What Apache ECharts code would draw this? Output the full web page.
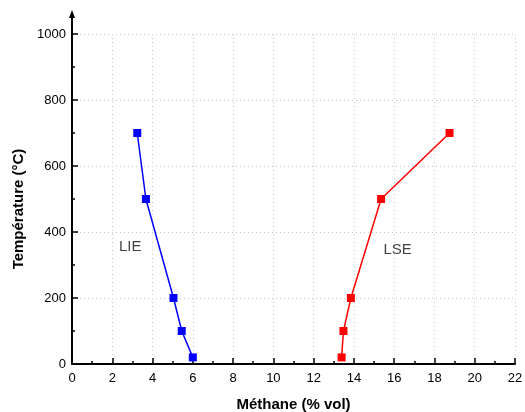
<!DOCTYPE html>
<html><head><meta charset="utf-8">
<script src="https://cdn.jsdelivr.net/npm/echarts@6/dist/echarts.min.js"></script>
<style>html,body{margin:0;padding:0;background:#fff;overflow:hidden}#c{width:525px;height:412px}</style>
</head><body><div id="c"></div>
<script>
const lieX = [3.24, 3.67, 5.04, 5.45, 6.0];
const lieY = [700, 500, 200, 100, 20];
const lseX = [18.75, 15.35, 13.85, 13.48, 13.39];
const lseY = [700, 500, 200, 100, 20];
const textLabels = [['LIE', 2.89, 356], ['LSE', 16.17, 346]];
const xTitle = 'Méthane (% vol)';
const yTitle = 'Température (°C)';

const chart = echarts.init(document.getElementById('c'), null, {renderer: 'canvas'});
const font = 'Liberation Sans, Arial, sans-serif';
const axisCommon = {
  axisLine: {show: true, lineStyle: {color: '#000', width: 2}},
  axisTick: {show: true, inside: true, length: 6, lineStyle: {color: '#000', width: 1.5}},
  minorTick: {show: true, splitNumber: 2, length: 3, lineStyle: {color: '#000', width: 1.5}},
  splitLine: {show: true, lineStyle: {color: '#c8c8c8', type: [1, 3], width: 1}},
  axisLabel: {color: '#000', fontSize: 13, fontFamily: font},
  nameTextStyle: {color: '#000', fontSize: 15, fontWeight: 'bold', fontFamily: font}
};
chart.setOption({
  animation: false,
  grid: {left: 72, right: 10, top: 34, bottom: 48, containLabel: false, outerBoundsMode: 'none'},
  xAxis: Object.assign({}, axisCommon, {
    type: 'value', min: 0, max: 22, interval: 2,
    name: xTitle, nameLocation: 'middle', nameGap: 33,
    axisLabel: Object.assign({}, axisCommon.axisLabel, {margin: 8})
  }),
  yAxis: Object.assign({}, axisCommon, {
    type: 'value', min: 0, max: 1000, interval: 200,
    name: yTitle, nameLocation: 'middle', nameGap: 46,
    nameTextStyle: Object.assign({}, axisCommon.nameTextStyle, {padding: [0, 20, 0, 0]}),
    axisLabel: Object.assign({}, axisCommon.axisLabel, {margin: 6, formatter: v => String(v)})
  }),
  series: [
    {type: 'line', data: lieX.map((x, i) => [x, lieY[i]]), symbol: 'rect', symbolSize: 8,
     itemStyle: {color: '#0000ff'}, lineStyle: {color: '#0000ff', width: 1.5}, z: 3},
    {type: 'line', data: lseX.map((x, i) => [x, lseY[i]]), symbol: 'rect', symbolSize: 8,
     itemStyle: {color: '#ff0000'}, lineStyle: {color: '#ff0000', width: 1.5}, z: 3},
    {type: 'scatter', data: textLabels.map(t => ({value: [t[1], t[2]], name: t[0]})), symbolSize: 0,
     label: {show: true, position: 'inside', formatter: p => p.name, color: '#111', fontSize: 15, fontFamily: font}}
  ]
});
const axisTop = chart.convertToPixel({gridIndex: 0}, [0, 1000]);
chart.setOption({graphic: [
  {type: 'line', shape: {x1: axisTop[0], y1: axisTop[1], x2: axisTop[0], y2: axisTop[1] - 18}, style: {stroke: '#000', lineWidth: 2}, z: 10},
  {type: 'polygon', shape: {points: [[axisTop[0] - 3, axisTop[1] - 16], [axisTop[0] + 3, axisTop[1] - 16], [axisTop[0], axisTop[1] - 24]]}, style: {fill: '#000'}, z: 10}
]});
</script></body></html>
